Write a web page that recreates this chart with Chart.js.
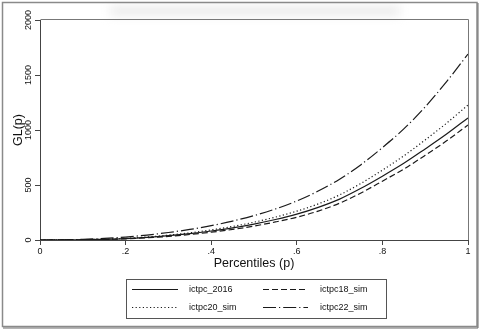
<!DOCTYPE html>
<html><head><meta charset="utf-8">
<script src="https://cdn.jsdelivr.net/npm/chart.js@4/dist/chart.umd.min.js"></script>
<style>html,body{margin:0;padding:0;background:#fff;overflow:hidden}#wrap{width:481px;height:329px;position:relative}canvas{display:block}</style>
</head><body><div id="wrap"><canvas id="c" width="481" height="329"></canvas></div>
<script>
// ---- data ----
const percentiles = [0,0.05,0.1,0.15,0.2,0.25,0.3,0.35,0.4,0.45,0.5,0.55,0.6,0.65,0.7,0.75,0.8,0.85,0.9,0.95,1];
const ictpc_2016  = [0,0.6,2.5,6,13,24,39,58,82,110,145,186,235,297,372,470,580,697,828,963,1110];
const ictpc18_sim = [0,0.5,2,5,11,20,33,50,71,96,127,164,207,263,335,428,535,645,770,902,1045];
const ictpc20_sim = [0,0.7,3,7,15,27,44,65,92,123,162,208,262,328,410,515,635,765,910,1062,1227];
const ictpc22_sim = [0,1.5,6,14,27,45,68,96,130,172,222,282,355,445,553,685,840,1010,1210,1440,1690];
const seriesLabels = ['ictpc_2016','ictpc18_sim','ictpc20_sim','ictpc22_sim'];
const xTickValues = [0,0.2,0.4,0.6,0.8,1];
const xTickLabels = ['0','.2','.4','.6','.8','1'];
const yTickValues = [0,500,1000,1500,2000];
const yTickLabels = ['0','500','1000','1500','2000'];
const xTitle = 'Percentiles (p)';
const yTitle = 'GL(p)';

const FONT = "'Liberation Sans', Arial, Helvetica, sans-serif";
const dashes = [[], [6,3], [1.2,2.4], [13,3,1.2,3]];
const seriesValues = [ictpc_2016, ictpc18_sim, ictpc20_sim, ictpc22_sim];

const datasets = seriesLabels.map((lab, i) => ({
  label: lab,
  data: percentiles.map((p, j) => ({x: p, y: seriesValues[i][j]})),
  borderColor: '#1a1a1a',
  borderWidth: 1.2,
  borderDash: dashes[i],
  pointRadius: 0,
  fill: false,
  cubicInterpolationMode: 'monotone'
}));

function labelFor(values, labels, v) {
  const i = values.findIndex(t => Math.abs(t - v) < 1e-9);
  return i >= 0 ? labels[i] : '';
}

const framePlugin = {
  id: 'frame',
  beforeDraw(chart) {
    const ctx = chart.ctx;
    ctx.save();
    ctx.filter = 'blur(5px)';
    ctx.fillStyle = '#ececec';
    ctx.fillRect(110, 6, 290, 10);
    ctx.filter = 'none';
    ctx.strokeStyle = '#8a8a8a';
    ctx.lineWidth = 1.5;
    ctx.strokeRect(2.5, 2.5, 474.5, 324);
    ctx.strokeStyle = '#6a6a6a';
    ctx.lineWidth = 1;
    ctx.beginPath();
    ctx.moveTo(478, 3); ctx.lineTo(478, 328); ctx.lineTo(3, 328);
    ctx.stroke();
    ctx.restore();
  },
  afterDraw(chart) {
    const ctx = chart.ctx;
    const a = chart.chartArea;
    ctx.save();
    ctx.strokeStyle = '#777';
    ctx.lineWidth = 1;
    ctx.beginPath();
    ctx.moveTo(Math.round(a.left) + 0.5, Math.round(a.top) - 0.5);
    ctx.lineTo(Math.round(a.right) + 0.5, Math.round(a.top) - 0.5);
    ctx.lineTo(Math.round(a.right) + 0.5, Math.round(a.bottom));
    ctx.stroke();
    const bx = 126.5, by = 279.5, bw = 260, bh = 39;
    ctx.strokeStyle = '#555';
    ctx.strokeRect(bx, by, bw, bh);
    const cols = [{x0: 132, x1: 178, tx: 189}, {x0: 263, x1: 308, tx: 320}];
    const rows = [289, 307];
    chart.data.datasets.forEach((ds, i) => {
      const c = cols[i % 2], r = rows[Math.floor(i / 2)];
      ctx.strokeStyle = ds.borderColor;
      ctx.lineWidth = ds.borderWidth;
      ctx.setLineDash(ds.borderDash);
      ctx.beginPath();
      ctx.moveTo(c.x0, r + 0.5); ctx.lineTo(c.x1, r + 0.5);
      ctx.stroke();
      ctx.setLineDash([]);
      ctx.fillStyle = '#111';
      ctx.font = '9px ' + FONT;
      ctx.textBaseline = 'middle';
      ctx.textAlign = 'left';
      ctx.fillText(ds.label, c.tx, r + 0.5);
    });
    ctx.restore();
  }
};

new Chart(document.getElementById('c'), {
  type: 'line',
  data: { datasets },
  options: {
    responsive: false,
    animation: false,
    devicePixelRatio: 1,
    layout: { padding: { left: 0, right: 13, top: 20, bottom: 59 } },
    plugins: { legend: { display: false }, tooltip: { enabled: false }, title: { display: false } },
    scales: {
      x: {
        type: 'linear', min: 0, max: 1,
        afterBuildTicks: s => { s.ticks = xTickValues.map(v => ({value: v})); },
        afterFit: s => { s.height = 30; },
        grid: { drawOnChartArea: false, drawTicks: true, tickLength: 5, color: '#444', lineWidth: 1 },
        border: { display: true, color: '#444', width: 1 },
        ticks: { padding: 1, color: '#111', font: { family: FONT, size: 9 }, maxRotation: 0, autoSkip: false,
                 callback: v => labelFor(xTickValues, xTickLabels, v) },
        title: { display: true, text: xTitle, color: '#111', font: { family: FONT, size: 12.5, lineHeight: 1 }, padding: { top: 0, bottom: 0 } }
      },
      y: {
        type: 'linear', min: 0, max: 2000,
        afterBuildTicks: s => { s.ticks = yTickValues.map(v => ({value: v})); },
        afterFit: s => { s.width = 40; },
        grid: { drawOnChartArea: false, drawTicks: true, tickLength: 5, color: '#444', lineWidth: 1 },
        border: { display: true, color: '#444', width: 1 },
        ticks: { minRotation: 90, maxRotation: 90, crossAlign: 'center', padding: -4, color: '#111',
                 font: { family: FONT, size: 9 }, autoSkip: false,
                 callback: v => labelFor(yTickValues, yTickLabels, v) },
        title: { display: true, text: yTitle, color: '#111', font: { family: FONT, size: 12.5, lineHeight: 1 }, padding: { top: 12.5, bottom: 0 } }
      }
    }
  },
  plugins: [framePlugin]
});
</script>
</body></html>
